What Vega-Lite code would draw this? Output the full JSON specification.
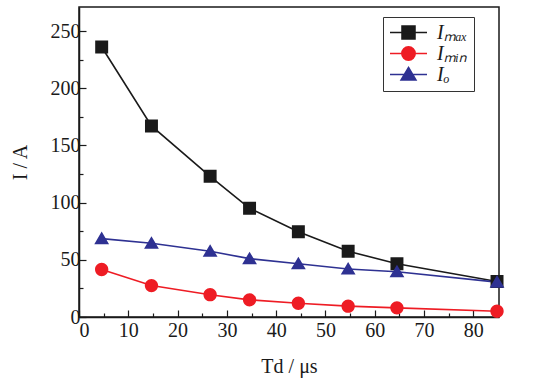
{
  "$schema": "https://vega.github.io/schema/vega-lite/v6.json",
  "autosize": "none",
  "width": 420,
  "height": 310,
  "padding": {"left": 79, "top": 7, "right": 37, "bottom": 70},
  "background": "white",
  "config": {
    "view": {"stroke": "#1a1a1a", "strokeWidth": 1.5},
    "font": "Liberation Serif",
    "axis": {
      "domainColor": "#1a1a1a",
      "domainWidth": 1.5,
      "tickColor": "#1a1a1a",
      "tickWidth": 1.2,
      "grid": false,
      "labelFont": "Liberation Serif",
      "labelFontSize": 20,
      "labelColor": "#1a1a1a",
      "titleFont": "Liberation Serif",
      "titleFontSize": 20,
      "titleFontWeight": "normal",
      "titleColor": "#1a1a1a"
    },
    "legend": {
      "orient": "none",
      "padding": 6,
      "labelFont": "Liberation Serif",
      "labelFontSize": 20,
      "labelFontStyle": "italic",
      "labelColor": "#1a1a1a",
      "rowPadding": 0,
      "labelOffset": 9
    }
  },
  "data": {
    "values": [
      {"Td": 4.6, "I": 236, "series": "Imax"},
      {"Td": 14.7, "I": 167, "series": "Imax"},
      {"Td": 26.6, "I": 123, "series": "Imax"},
      {"Td": 34.6, "I": 95, "series": "Imax"},
      {"Td": 44.5, "I": 74.5, "series": "Imax"},
      {"Td": 54.6, "I": 57.5, "series": "Imax"},
      {"Td": 64.5, "I": 46.5, "series": "Imax"},
      {"Td": 84.8, "I": 31, "series": "Imax"},
      {"Td": 4.6, "I": 41.5, "series": "Imin"},
      {"Td": 14.7, "I": 27.5, "series": "Imin"},
      {"Td": 26.6, "I": 19.5, "series": "Imin"},
      {"Td": 34.6, "I": 15, "series": "Imin"},
      {"Td": 44.5, "I": 12, "series": "Imin"},
      {"Td": 54.6, "I": 9.5, "series": "Imin"},
      {"Td": 64.5, "I": 8, "series": "Imin"},
      {"Td": 84.8, "I": 5, "series": "Imin"},
      {"Td": 4.6, "I": 68.5, "series": "Io"},
      {"Td": 14.7, "I": 64.5, "series": "Io"},
      {"Td": 26.6, "I": 57.5, "series": "Io"},
      {"Td": 34.6, "I": 51, "series": "Io"},
      {"Td": 44.5, "I": 46.5, "series": "Io"},
      {"Td": 54.6, "I": 42, "series": "Io"},
      {"Td": 64.5, "I": 39.5, "series": "Io"},
      {"Td": 84.8, "I": 30.5, "series": "Io"}
    ]
  },
  "encoding": {
    "x": {
      "field": "Td",
      "type": "quantitative",
      "scale": {"domain": [0, 85.2], "nice": false, "zero": false},
      "axis": {
        "title": "Td / μs",
        "values": [0,5,10,15,20,25,30,35,40,45,50,55,60,65,70,75,80,85],
        "labelExpr": "datum.value % 10 === 0 ? datum.label : ''",
        "tickSize": {"condition": {"test": "datum.value % 10 === 0", "value": -7}, "value": -4},
        "labelPadding": 10,
        "titlePadding": 16
      }
    },
    "y": {
      "field": "I",
      "type": "quantitative",
      "scale": {"domain": [0, 271], "nice": false},
      "axis": {
        "title": "I / A",
        "values": [0,25,50,75,100,125,150,175,200,225,250],
        "labelExpr": "datum.value % 50 === 0 ? datum.label : ''",
        "tickSize": {"condition": {"test": "datum.value % 50 === 0", "value": -7}, "value": -4},
        "labelPadding": 6,
        "titlePadding": 20
      }
    },
    "color": {
      "field": "series",
      "type": "nominal",
      "scale": {"domain": ["Imax", "Imin", "Io"], "range": ["#1a1a1a", "#ee1c24", "#2e3192"]},
      "legend": {
        "title": null,
        "legendX": 304,
        "legendY": 10,
        "strokeColor": "#333333",
        "symbolSize": 1369,
        "symbolStrokeWidth": 1.6,
        "clipHeight": 19,
        "labelExpr": "datum.value === 'Imax' ? 'Iₘₐₓ' : datum.value === 'Imin' ? 'Iₘᵢₙ' : 'Iₒ'",
        "encode": {
          "symbols": {
            "update": {
              "stroke": {"scale": "color", "field": "value"},
              "strokeWidth": {"value": 1.6},
              "opacity": {"value": 1}
            }
          }
        }
      }
    }
  },
  "layer": [
    {
      "mark": {"type": "line", "strokeWidth": 1.6}
    },
    {
      "mark": {"type": "point", "filled": true, "opacity": 1, "size": 1369},
      "encoding": {
        "shape": {
          "field": "series",
          "type": "nominal",
          "scale": {
            "domain": ["Imax", "Imin", "Io"],
            "range": [
              "M-1,0H1M-0.35,-0.35H0.35V0.35H-0.35Z",
              "M-1,0H1M0.36,0A0.36,0.36,0,1,1,-0.36,0A0.36,0.36,0,1,1,0.36,0Z",
              "M-1,0H1M0,-0.38L0.4,0.3H-0.4Z"
            ]
          },
          "legend": {
            "title": null,
            "legendX": 304,
            "legendY": 10,
            "strokeColor": "#333333",
            "symbolSize": 1369,
            "symbolStrokeWidth": 1.6,
            "clipHeight": 19,
            "labelExpr": "datum.value === 'Imax' ? 'Iₘₐₓ' : datum.value === 'Imin' ? 'Iₘᵢₙ' : 'Iₒ'",
            "encode": {
              "symbols": {
                "update": {
                  "stroke": {"scale": "color", "field": "value"},
                  "strokeWidth": {"value": 1.6},
                  "opacity": {"value": 1}
                }
              }
            }
          }
        }
      }
    }
  ]
}
